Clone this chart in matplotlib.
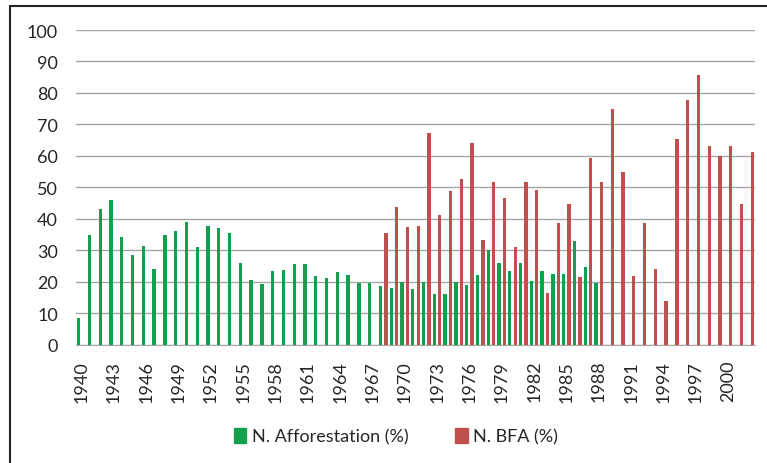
import numpy as np
import matplotlib
matplotlib.use("Agg")
import matplotlib.pyplot as plt
from matplotlib.patches import Rectangle, Patch

years = list(range(1940, 2003))

# N. Afforestation (%) 1940-1988
afforestation = [8.3, 34.7, 43.1, 46.0, 34.2, 28.5, 31.4, 24.1, 34.7, 36.2,
                 39.1, 30.9, 37.8, 37.0, 35.4, 25.8, 20.4, 19.2, 23.3, 23.7,
                 25.7, 25.7, 21.7, 21.3, 23.2, 22.0, 19.7, 19.7, 18.7, 18.0,
                 19.8, 17.5, 19.9, 15.9, 15.9, 19.8, 19.0, 22.0, 29.9, 26.0,
                 23.5, 26.0, 20.3, 23.5, 22.4, 22.4, 32.8, 24.7, 19.7]
aff_years = list(range(1940, 1989))

# N. BFA (%) 1968-2002
bfa = [35.4, 43.7, 37.4, 37.7, 67.3, 41.3, 48.7, 52.6, 64.2, 33.3,
       51.8, 46.6, 30.9, 51.8, 49.0, 16.3, 38.5, 44.7, 21.5, 59.3,
       51.8, 75.0, 54.7, 21.9, 38.5, 23.9, 13.9, 65.2, 77.9, 85.6,
       63.2, 59.8, 63.2, 44.7, 61.2]
bfa_years = list(range(1968, 2003))

green = '#12a04e'
red = '#c0504d'

plt.rcParams['font.family'] = ['Lato', 'DejaVu Sans']

fig = plt.figure(figsize=(7.67, 4.64), dpi=100)
ax = fig.add_axes([76 / 767, 1 - 345.5 / 464, (755 - 76) / 767, (345.5 - 31) / 464])

# chart border like Excel
fig.patches.append(Rectangle((10 / 767, -0.1), 1.2, 1 - 7 / 464 + 0.1,
                             transform=fig.transFigure, fill=False,
                             edgecolor='#222222', linewidth=1.5))

idx = {y: i for i, y in enumerate(years)}
w = 0.31
off = 0.25
ax.bar([idx[y] - off for y in aff_years], afforestation, width=w, color=green, zorder=3)
ax.bar([idx[y] + off for y in bfa_years], bfa, width=w, color=red, zorder=3)

ax.set_xlim(-0.5, len(years) - 0.5)
ax.set_ylim(0, 100)
ax.set_yticks(np.arange(0, 101, 10))
ax.yaxis.grid(True, color='#a6a6a6', linewidth=1, zorder=0)
ax.set_axisbelow(True)

ticks = list(range(0, len(years), 3))
ax.set_xticks(ticks)
ax.set_xticklabels([str(years[i]) for i in ticks], rotation=90)

for s in ['top', 'right', 'left']:
    ax.spines[s].set_visible(False)
ax.spines['bottom'].set_color('#a6a6a6')
ax.tick_params(axis='y', length=0, pad=13, labelsize=13, labelcolor='#262626')
ax.tick_params(axis='x', length=0, pad=11, labelsize=13, labelcolor='#262626')

handles = [Patch(color=green, label='N. Afforestation (%)'),
           Patch(color=red, label='N. BFA (%)')]
fig.legend(handles=handles, loc='center', bbox_to_anchor=(396 / 767, 1 - 437 / 464),
           ncol=2, frameon=False, fontsize=13, handlelength=0.7, handleheight=0.9,
           handletextpad=0.3, columnspacing=2.6, labelcolor='#262626')

fig.savefig('out.png', dpi=100)
